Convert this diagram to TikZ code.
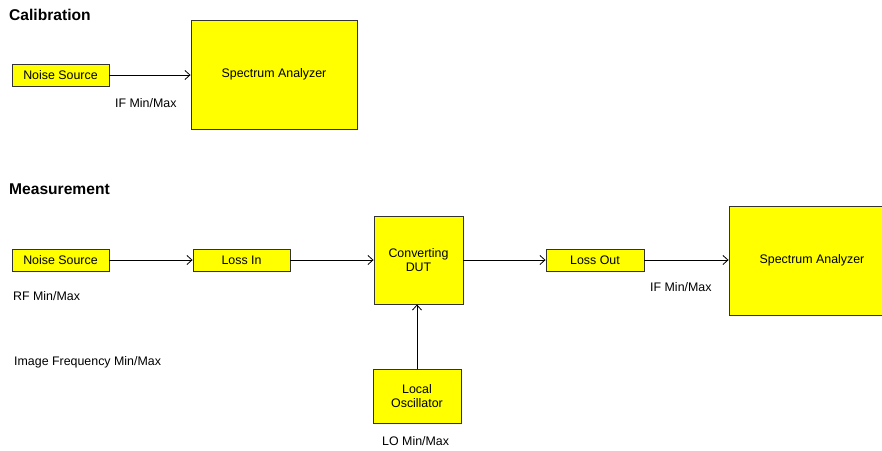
\documentclass[tikz,border=0pt]{standalone}
\usepackage{fontspec}
\setmainfont{Liberation Sans}
\usepackage{xcolor}
\usetikzlibrary{positioning,arrows.meta}
\definecolor{amarillo}{HTML}{FFFF00}

\begin{document}
\begin{tikzpicture}[x=1pt, y=-1pt, font=\fontsize{12.4}{14.5}\selectfont,
  caja/.style={draw=black!80, fill=amarillo, line width=0.9pt, align=center, inner sep=0pt},
  titulo/.style={anchor=west, inner sep=0pt, font=\fontsize{15.6}{18}\selectfont\bfseries},
  etiqueta/.style={anchor=west, inner sep=0pt},
  flecha/.style={-{Straight Barb[length=5pt, width=9pt]}, line width=0.8pt}]
\useasboundingbox (0,0) rectangle (882,450);
% Calibration
\node[titulo] (tcal) at (9,15) {Calibration};
\node[caja, minimum width=97pt, minimum height=22pt] (ns1) at (60.5,75) {Noise Source};
\node[caja, minimum width=166pt, minimum height=109pt] (sa1) at (274,74.5) {Spectrum Analyzer};
\node[etiqueta] (if1) at (115,103) {IF Min/Max};
\draw[flecha] (ns1) -- (sa1.west |- ns1);
% Measurement
\node[titulo] (tmed) at (9,189) {Measurement};
\node[caja, minimum width=97pt, minimum height=22pt] (ns2) at (60.5,260) {Noise Source};
\node[caja, minimum width=97pt, minimum height=22pt] (lin) at (241.5,260) {Loss In};
\node[caja, minimum width=89pt, minimum height=88pt] (dut) at (418.5,260) {Converting\\DUT};
\node[caja, minimum width=98pt, minimum height=22pt] (lout) at (595,260) {Loss Out};
\node[caja, minimum width=166pt, minimum height=109pt] (sa2) at (812,260.5) {Spectrum Analyzer};
\node[caja, minimum width=88pt, minimum height=54pt] (lo) at (417,396) {Local\\Oscillator};
\node[etiqueta] (rf) at (13,296) {RF Min/Max};
\node[etiqueta] (img) at (14,362) {Image Frequency Min/Max};
\node[etiqueta] (lolab) at (382,441) {LO Min/Max};
\node[etiqueta] (if2) at (650,287) {IF Min/Max};
\draw[flecha] (ns2) -- (lin);
\draw[flecha] (lin) -- (dut);
\draw[flecha] (dut) -- (lout);
\draw[flecha] (lout) -- (sa2.west |- lout);
\draw[flecha] (lo) -- (lo |- dut.south);
\end{tikzpicture}
\end{document}
